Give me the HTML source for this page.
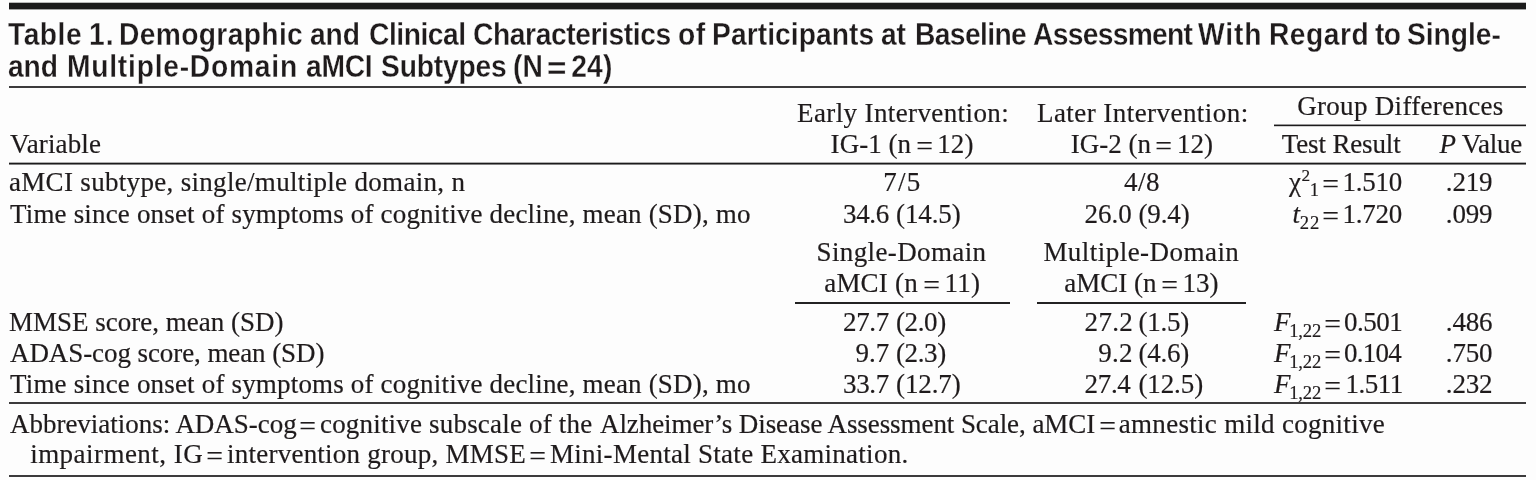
<!DOCTYPE html><html lang="en"><head><meta charset="utf-8"><title>Table 1</title><style>
html,body{margin:0;padding:0;background:#fdfdfd;}
#tbl{position:relative;width:1536px;height:480px;will-change:transform;background:#fdfdfd;color:#1f1b1c;}
.i{position:absolute;white-space:pre;line-height:40px;height:40px;}
.s{font-family:'Liberation Serif', serif;font-size:27px;-webkit-text-stroke:0.18px #1f1b1c;}
.t{font-family:'Liberation Sans', sans-serif;font-size:31px;font-weight:bold;transform:scaleX(0.91);transform-origin:0 0;-webkit-text-stroke:0.28px #fdfdfd;}
.sub{font-size:0.69em;position:relative;top:0.31em;}
.sup{font-size:0.64em;position:relative;top:-0.58em;}
.r{position:absolute;}
.g{margin:0;padding:0;font-size:inherit;font-weight:inherit;}
.eq{display:inline-block;transform:translateY(2px) scaleX(1.1);}
.t .eq{transform:translateY(2px) scaleX(1.18);}
</style></head><body>
<div id="tbl" style="height:480px">
<div class="r" style="left:9px;top:2px;width:1516.7px;height:8px;background:linear-gradient(to bottom,#bab9ba 0px 1px,#1c1b1c 1px 2px,#1c1b1c 2px 3px,#1c1b1c 3px 4px,#1c1b1c 4px 5px,#1c1b1c 5px 6px,#1c1b1c 6px 7px,#a3a3a3 7px 8px)"></div>
<div class="r" style="left:9px;top:86px;width:1516.7px;height:2px;background:linear-gradient(to bottom,#3c3b3c 0px 1px,#3c3b3c 1px 2px)"></div>
<div class="r" style="left:1274px;top:124px;width:251.7px;height:3px;background:linear-gradient(to bottom,#989798 0px 1px,#1c1b1c 1px 2px,#d0d0d0 2px 3px)"></div>
<div class="r" style="left:9px;top:162px;width:1516.7px;height:3px;background:linear-gradient(to bottom,#aeaeae 0px 1px,#1c1b1c 1px 2px,#818181 2px 3px)"></div>
<div class="r" style="left:794.7px;top:302px;width:215.0px;height:2px;background:linear-gradient(to bottom,#232223 0px 1px,#232223 1px 2px)"></div>
<div class="r" style="left:1037.2px;top:302px;width:208.4px;height:2px;background:linear-gradient(to bottom,#232223 0px 1px,#232223 1px 2px)"></div>
<div class="r" style="left:9px;top:402px;width:1516.7px;height:2px;background:linear-gradient(to bottom,#3c3b3c 0px 1px,#3c3b3c 1px 2px)"></div>
<div class="r" style="left:9px;top:475px;width:1516.7px;height:2px;background:linear-gradient(to bottom,#3c3b3c 0px 1px,#3c3b3c 1px 2px)"></div>
<h1 class="g">
<span class="i t" id="t1_0" style="left:8.00px;top:15.00px;letter-spacing:0.549px;">Table </span>
<span class="i t" id="t1_1" style="left:89.20px;top:15.00px;letter-spacing:1.099px;">1. </span>
<span class="i t" id="t1_2" style="left:118.50px;top:15.00px;letter-spacing:0.385px;">Demographic </span>
<span class="i t" id="t1_3" style="left:309.50px;top:15.00px;letter-spacing:-0.137px;">and </span>
<span class="i t" id="t1_4" style="left:369.00px;top:15.00px;letter-spacing:-0.510px;">Clinical </span>
<span class="i t" id="t1_5" style="left:472.50px;top:15.00px;letter-spacing:-0.451px;">Characteristics </span>
<span class="i t" id="t1_6" style="left:677.80px;top:15.00px;letter-spacing:0.549px;">of </span>
<span class="i t" id="t1_7" style="left:711.50px;top:15.00px;letter-spacing:0.075px;">Participants </span>
<span class="i t" id="t1_8" style="left:880.50px;top:15.00px;letter-spacing:-0.275px;">at </span>
<span class="i t" id="t1_9" style="left:914.50px;top:15.00px;letter-spacing:-0.667px;">Baseline </span>
<span class="i t" id="t1_10" style="left:1032.50px;top:15.00px;letter-spacing:-0.763px;">Assessment </span>
<span class="i t" id="t1_11" style="left:1197.50px;top:15.00px;letter-spacing:1.007px;">With </span>
<span class="i t" id="t1_12" style="left:1268.50px;top:15.00px;letter-spacing:0.549px;">Regard </span>
<span class="i t" id="t1_13" style="left:1374.50px;top:15.00px;letter-spacing:-0.824px;">to </span>
<span class="i t" id="t1_14" style="left:1406.50px;top:15.00px;letter-spacing:-0.046px;">Single- </span>
<span class="i t" id="t2_0" style="left:8.00px;top:47.30px;letter-spacing:-0.137px;">and </span>
<span class="i t" id="t2_1" style="left:67.00px;top:47.30px;letter-spacing:0.844px;">Multiple-Domain </span>
<span class="i t" id="t2_2" style="left:305.50px;top:47.30px;letter-spacing:-0.275px;">aMCI </span>
<span class="i t" id="t2_3" style="left:380.50px;top:47.30px;letter-spacing:-0.196px;">Subtypes </span>
<span class="i t" id="t2_4" style="left:513.20px;top:47.30px;letter-spacing:0.157px;">(N <span class="eq">=</span> 24) </span>
</h1>
<div class="g" role="rowgroup">
<span class="i s" id="h_var" style="left:10.00px;top:124.20px;letter-spacing:0.143px;">Variable</span>
<span class="i s" id="h_e1" style="left:797.00px;top:93.00px;letter-spacing:0.389px;">Early Intervention:</span>
<span class="i s" id="h_e2" style="left:830.60px;top:124.20px;letter-spacing:0.042px;">IG-1 (n <span class="eq">=</span> 12)</span>
<span class="i s" id="h_l1" style="left:1037.00px;top:93.00px;letter-spacing:0.444px;">Later Intervention:</span>
<span class="i s" id="h_l2" style="left:1070.80px;top:124.20px;letter-spacing:0.000px;">IG-2 (n <span class="eq">=</span> 12)</span>
<span class="i s" id="h_gd" style="left:1297.20px;top:85.80px;letter-spacing:0.312px;">Group Differences</span>
<span class="i s" id="h_tr" style="left:1281.80px;top:124.20px;letter-spacing:-0.150px;">Test Result</span>
<span class="i s" id="h_pv" style="left:1439.60px;top:124.20px;letter-spacing:-0.250px;"><i>P</i> Value</span>
</div>
<div class="g" role="rowgroup">
<span class="i s" id="r1" style="left:9.00px;top:161.60px;letter-spacing:0.316px;">aMCI subtype, single/multiple domain, n</span>
<span class="i s" id="r2" style="left:10.00px;top:193.80px;letter-spacing:0.175px;">Time since onset of symptoms of cognitive decline, mean (SD), mo</span>
<span class="i s" id="r1a" style="left:883.20px;top:161.60px;letter-spacing:1.250px;">7/5</span>
<span class="i s" id="r1b" style="left:1124.00px;top:161.60px;letter-spacing:0.500px;">4/8</span>
<span class="i s" id="r2a1" style="left:843.00px;top:193.80px;letter-spacing:-0.333px;">34.6</span>
<span class="i s" id="r2a2" style="left:896.00px;top:193.80px;letter-spacing:-0.100px;">(14.5)</span>
<span class="i s" id="r2b1" style="left:1084.60px;top:193.80px;letter-spacing:0.000px;">26.0</span>
<span class="i s" id="r2b2" style="left:1138.40px;top:193.80px;letter-spacing:-0.125px;">(9.4)</span>
<span class="i s" id="r1p" style="left:1445.80px;top:161.60px;letter-spacing:-0.167px;">.219</span>
<span class="i s" id="r2p" style="left:1445.80px;top:193.80px;letter-spacing:-0.167px;">.099</span>
<span class="i s" id="s_a1" style="left:816.60px;top:232.40px;letter-spacing:0.375px;">Single-Domain</span>
<span class="i s" id="s_a2" style="left:824.20px;top:263.40px;letter-spacing:0.208px;">aMCI (n <span class="eq">=</span> 11)</span>
<span class="i s" id="s_b1" style="left:1043.40px;top:232.40px;letter-spacing:0.464px;">Multiple-Domain</span>
<span class="i s" id="s_b2" style="left:1064.20px;top:263.40px;letter-spacing:-0.000px;">aMCI (n <span class="eq">=</span> 13)</span>
<span class="i s" id="r3" style="left:9.00px;top:301.90px;letter-spacing:-0.000px;">MMSE score, mean (SD)</span>
<span class="i s" id="r4" style="left:10.00px;top:333.10px;letter-spacing:-0.083px;">ADAS-cog score, mean (SD)</span>
<span class="i s" id="r5" style="left:10.00px;top:364.30px;letter-spacing:0.175px;">Time since onset of symptoms of cognitive decline, mean (SD), mo</span>
<span class="i s" id="r3a1" style="left:843.00px;top:301.90px;letter-spacing:-0.333px;">27.7</span>
<span class="i s" id="r3a2" style="left:896.00px;top:301.90px;letter-spacing:-0.375px;">(2.0)</span>
<span class="i s" id="r4a1" style="left:855.60px;top:333.10px;letter-spacing:-0.000px;">9.7</span>
<span class="i s" id="r4a2" style="left:896.00px;top:333.10px;letter-spacing:-0.375px;">(2.3)</span>
<span class="i s" id="r5a1" style="left:843.00px;top:364.30px;letter-spacing:-0.333px;">33.7</span>
<span class="i s" id="r5a2" style="left:896.00px;top:364.30px;letter-spacing:-0.100px;">(12.7)</span>
<span class="i s" id="r3b1" style="left:1084.60px;top:301.90px;letter-spacing:0.333px;">27.2</span>
<span class="i s" id="r3b2" style="left:1138.40px;top:301.90px;letter-spacing:-0.250px;">(1.5)</span>
<span class="i s" id="r4b1" style="left:1098.20px;top:333.10px;letter-spacing:0.250px;">9.2</span>
<span class="i s" id="r4b2" style="left:1138.40px;top:333.10px;letter-spacing:-0.250px;">(4.6)</span>
<span class="i s" id="r5b1" style="left:1084.60px;top:364.30px;letter-spacing:-0.333px;">27.4</span>
<span class="i s" id="r5b2" style="left:1138.40px;top:364.30px;letter-spacing:-0.100px;">(12.5)</span>
<span class="i s" id="r3p" style="left:1445.80px;top:301.90px;letter-spacing:-0.167px;">.486</span>
<span class="i s" id="r4p" style="left:1445.80px;top:333.10px;letter-spacing:-0.167px;">.750</span>
<span class="i s" id="r5p" style="left:1445.80px;top:364.30px;letter-spacing:-0.167px;">.232</span>
<span class="i s" id="x1a" style="left:1289.00px;top:161.60px;letter-spacing:0.000px;">χ</span>
<span class="i s" id="x1b" style="left:1301.40px;top:161.60px;letter-spacing:0.000px;"><span class="sup">2</span></span>
<span class="i s" id="x1c" style="left:1309.65px;top:161.60px;letter-spacing:0.000px;"><span class="sub">1</span></span>
<span class="i s" id="x1d" style="left:1322.70px;top:161.60px;letter-spacing:0.000px;"><span class="eq">=</span></span>
<span class="i s" id="x1e" style="left:1342.60px;top:161.60px;letter-spacing:-0.250px;">1.510</span>
<span class="i s" id="x2a" style="left:1292.60px;top:193.80px;letter-spacing:0.000px;"><i>t</i></span>
<span class="i s" id="x2b" style="left:1299.80px;top:193.80px;letter-spacing:1.000px;"><span class="sub">22</span></span>
<span class="i s" id="x2d" style="left:1322.70px;top:193.80px;letter-spacing:0.000px;"><span class="eq">=</span></span>
<span class="i s" id="x2e" style="left:1342.60px;top:193.80px;letter-spacing:-0.250px;">1.720</span>
<span class="i s" id="x3a" style="left:1274.05px;top:301.90px;letter-spacing:0.000px;"><i>F</i></span>
<span class="i s" id="x3b" style="left:1289.20px;top:301.90px;letter-spacing:-0.167px;"><span class="sub">1,22</span></span>
<span class="i s" id="x3d" style="left:1325.10px;top:301.90px;letter-spacing:0.000px;"><span class="eq">=</span></span>
<span class="i s" id="x3e" style="left:1344.00px;top:301.90px;letter-spacing:-0.500px;">0.501</span>
<span class="i s" id="x4a" style="left:1274.05px;top:333.10px;letter-spacing:0.000px;"><i>F</i></span>
<span class="i s" id="x4b" style="left:1289.20px;top:333.10px;letter-spacing:-0.167px;"><span class="sub">1,22</span></span>
<span class="i s" id="x4d" style="left:1325.10px;top:333.10px;letter-spacing:0.000px;"><span class="eq">=</span></span>
<span class="i s" id="x4e" style="left:1344.00px;top:333.10px;letter-spacing:-0.750px;">0.104</span>
<span class="i s" id="x5a" style="left:1274.05px;top:364.30px;letter-spacing:0.000px;"><i>F</i></span>
<span class="i s" id="x5b" style="left:1289.20px;top:364.30px;letter-spacing:-0.167px;"><span class="sub">1,22</span></span>
<span class="i s" id="x5d" style="left:1325.10px;top:364.30px;letter-spacing:0.000px;"><span class="eq">=</span></span>
<span class="i s" id="x5e" style="left:1345.40px;top:364.30px;letter-spacing:-0.500px;">1.511</span>
</div>
<p class="g">
<span class="i s" id="f1a" style="left:10.00px;top:403.90px;letter-spacing:-0.023px;">Abbreviations: ADAS-cog</span>
<span class="i s" id="f1b" style="left:300.00px;top:403.90px;letter-spacing:0.000px;"><span class="eq">=</span></span>
<span class="i s" id="f1c" style="left:320.00px;top:403.90px;letter-spacing:0.188px;">cognitive subscale of the</span>
<span class="i s" id="f1c2" style="left:600.00px;top:403.90px;letter-spacing:-0.073px;">Alzheimer’s Disease Assessment Scale, aMCI</span>
<span class="i s" id="f1d" style="left:1099.55px;top:403.90px;letter-spacing:0.000px;"><span class="eq">=</span></span>
<span class="i s" id="f1e" style="left:1118.80px;top:403.90px;letter-spacing:0.295px;">amnestic mild cognitive</span>
<span class="i s" id="f2a" style="left:30.20px;top:434.00px;letter-spacing:0.462px;">impairment, IG</span>
<span class="i s" id="f2b" style="left:207.30px;top:434.00px;letter-spacing:0.000px;"><span class="eq">=</span></span>
<span class="i s" id="f2c" style="left:227.00px;top:434.00px;letter-spacing:0.239px;">intervention group, MMSE</span>
<span class="i s" id="f2d" style="left:529.95px;top:434.00px;letter-spacing:0.000px;"><span class="eq">=</span></span>
<span class="i s" id="f2e" style="left:550.00px;top:434.00px;letter-spacing:0.276px;">Mini-Mental State Examination.</span>
</p>
</div></body></html>
